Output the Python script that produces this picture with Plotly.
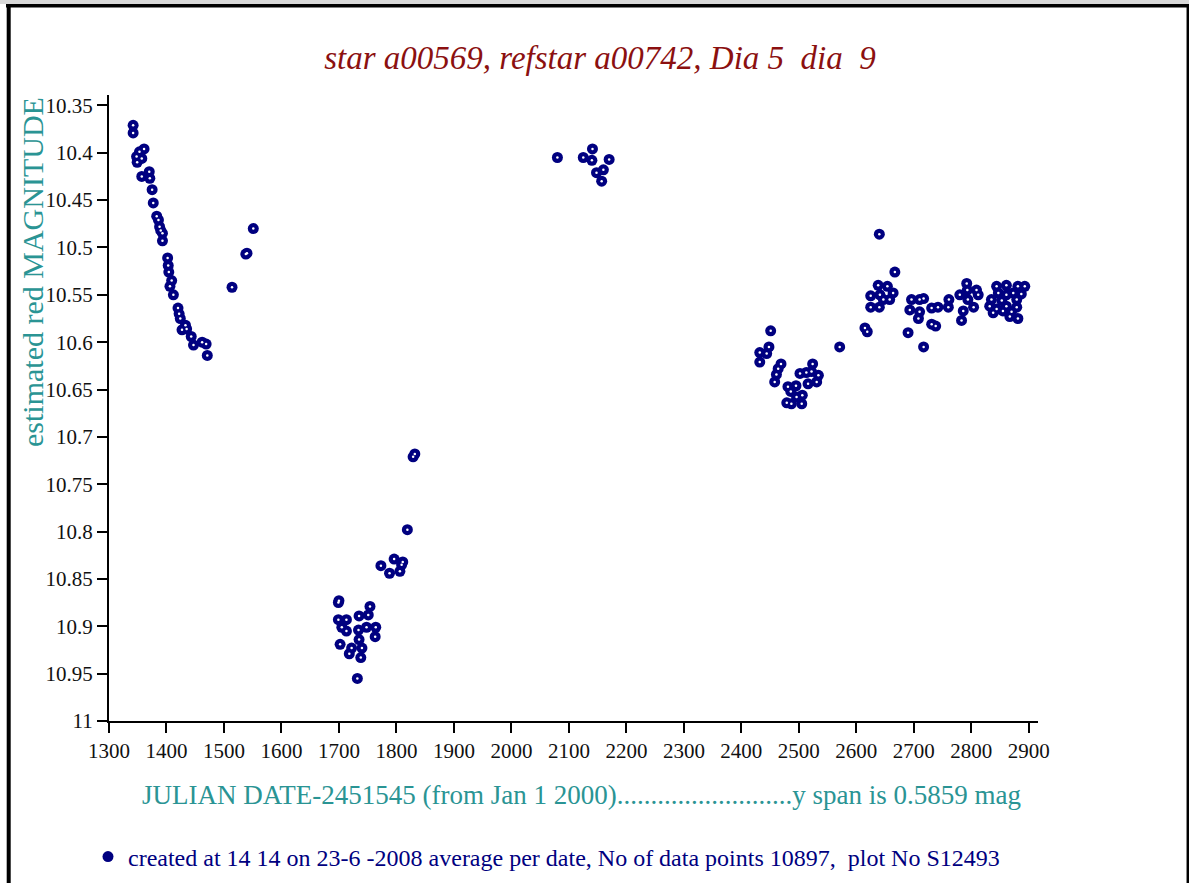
import plotly.graph_objects as go

# ---------------- data ----------------
jd = [
    1342, 1342, 1361, 1353, 1348, 1349, 1357, 1357, 1370, 1371, 1375, 1377,
    1383, 1386, 1388, 1390, 1393, 1393, 1402, 1403, 1404, 1409, 1406, 1412,
    1420, 1422, 1424, 1427, 1433, 1435, 1443, 1447, 1462, 1469, 1471,
    1514, 1538, 1540, 1551,
    1832, 1829, 1819, 1773, 1788, 1796, 1811, 1809, 1806, 1700, 1699, 1754,
    1751, 1735, 1699, 1713, 1705, 1713, 1734, 1748, 1764, 1763, 1735, 1702,
    1722, 1740, 1718, 1738, 1732,
    2080, 2125, 2141, 2140, 2170, 2148, 2160, 2157,
    2451, 2448, 2432, 2444, 2432, 2469, 2464, 2461, 2458, 2481, 2495, 2486,
    2502, 2513, 2524, 2522, 2534, 2531, 2516, 2506, 2496, 2479, 2487, 2505,
    2571,
    2640, 2667, 2638, 2654, 2664, 2625, 2641, 2647, 2658, 2625, 2640, 2615,
    2619, 2690, 2717, 2696, 2710, 2717, 2693, 2710, 2708, 2731, 2742, 2731,
    2738, 2761, 2760, 2780, 2792, 2793, 2809, 2812, 2794, 2804, 2786, 2783,
    2844, 2861, 2881, 2893, 2847, 2861, 2873, 2887, 2835, 2853, 2879, 2832,
    2844, 2861, 2879, 2838, 2855, 2870, 2867, 2881,
]
mag = [
    10.371, 10.379, 10.396, 10.399, 10.404, 10.410, 10.406, 10.425, 10.420, 10.427, 10.439, 10.453,
    10.467, 10.471, 10.478, 10.482, 10.485, 10.493, 10.511, 10.519, 10.526, 10.535, 10.541, 10.550,
    10.564, 10.570, 10.575, 10.587, 10.582, 10.586, 10.594, 10.603, 10.600, 10.602, 10.614,
    10.542, 10.507, 10.506, 10.480,
    10.718, 10.721, 10.798, 10.836, 10.844, 10.829, 10.832, 10.835, 10.842, 10.873, 10.875, 10.879,
    10.888, 10.889, 10.893, 10.893, 10.901, 10.905, 10.904, 10.901, 10.901, 10.911, 10.914, 10.919,
    10.923, 10.923, 10.929, 10.933, 10.955,
    10.405, 10.405, 10.396, 10.408, 10.407, 10.421, 10.418, 10.430,
    10.588, 10.605, 10.611, 10.612, 10.621, 10.623, 10.628, 10.634, 10.642, 10.647, 10.646, 10.652,
    10.633, 10.632, 10.623, 10.631, 10.635, 10.642, 10.644, 10.656, 10.658, 10.664, 10.665, 10.665,
    10.605,
    10.486, 10.526, 10.540, 10.541, 10.548, 10.551, 10.550, 10.555, 10.555, 10.563, 10.563, 10.585,
    10.589, 10.590, 10.605, 10.555, 10.555, 10.554, 10.566, 10.568, 10.575, 10.564, 10.563, 10.581,
    10.583, 10.555, 10.563, 10.550, 10.538, 10.545, 10.545, 10.550, 10.555, 10.563, 10.567, 10.577,
    10.541, 10.540, 10.541, 10.541, 10.548, 10.550, 10.548, 10.549, 10.555, 10.556, 10.555, 10.562,
    10.565, 10.562, 10.563, 10.569, 10.567, 10.568, 10.573, 10.575,
]
x_ticks = [1300, 1400, 1500, 1600, 1700, 1800, 1900, 2000, 2100, 2200,
           2300, 2400, 2500, 2600, 2700, 2800, 2900]
y_ticks = [10.35, 10.4, 10.45, 10.5, 10.55, 10.6, 10.65, 10.7, 10.75,
           10.8, 10.85, 10.9, 10.95, 11.0]
y_tick_labels = ["10.35", "10.4", "10.45", "10.5", "10.55", "10.6", "10.65",
                 "10.7", "10.75", "10.8", "10.85", "10.9", "10.95", "11"]

title_text = "star a00569, refstar a00742, Dia 5&nbsp; dia&nbsp; 9"
y_title = "estimated red MAGNITUDE"
x_title = ("JULIAN DATE-2451545 (from Jan 1 2000)" + "." * 26 +
           "y span is 0.5859 mag")
legend_text = ("created at 14 14 on 23-6 -2008 average per date, "
               "No of data points 10897,&nbsp; plot No S12493")

# ---------------- layout geometry ----------------
W, H = 1189, 883
L, R, T, B = 109, 1038, 95, 721   # plot area in pixels
NAVY = "#000080"
TEAL = "#2a9494"
SERIF = "Liberation Serif, Times New Roman, serif"


def px(x):
    return (x - L) / (R - L)


def py(y):
    return (B - y) / (B - T)


fig = go.Figure()
fig.add_trace(go.Scatter(
    x=jd, y=mag, mode="markers", name=legend_text,
    marker=dict(color=NAVY, size=11, line=dict(width=0)),
))
fig.add_trace(go.Scatter(
    x=jd, y=mag, mode="markers", showlegend=False, hoverinfo="skip",
    marker=dict(color="white", size=2.5, line=dict(width=0)),
))

axis_common = dict(
    showline=True, linecolor="black", linewidth=2,
    ticks="outside", ticklen=10, tickwidth=1.5, tickcolor="black",
    showgrid=False, zeroline=False,
)
fig.update_xaxes(range=[1300, 2916], tickvals=x_ticks,
                 tickfont=dict(family=SERIF, size=21, color="#111111"),
                 **axis_common)
fig.update_yaxes(range=[11.0, 10.339], tickvals=y_ticks,
                 ticktext=y_tick_labels,
                 tickfont=dict(family=SERIF, size=21, color="#111111"),
                 **axis_common)

shapes = [
    # light grey strip on top of the frame
    dict(type="rect", xref="paper", yref="paper", x0=px(0), x1=px(W),
         y0=py(0), y1=py(4), fillcolor="#d8d8d8", line=dict(width=0), layer="above"),
    # top border
    dict(type="line", xref="paper", yref="paper", x0=px(6), x1=px(W),
         y0=py(5.7), y1=py(5.7), line=dict(color="black", width=3.5)),
    # left border
    dict(type="line", xref="paper", yref="paper", x0=px(8.7), x1=px(8.7),
         y0=py(4), y1=py(H), line=dict(color="black", width=4)),
    # right border
    dict(type="line", xref="paper", yref="paper", x0=px(1187.8), x1=px(1187.8),
         y0=py(4), y1=py(H), line=dict(color="black", width=2.5)),
]

annotations = [
    dict(text=y_title, xref="paper", yref="paper", x=px(32), y=py(95),
         xanchor="center", yanchor="top", textangle=-90, showarrow=False,
         font=dict(family=SERIF, size=30, color=TEAL)),
    dict(text=x_title, xref="paper", yref="paper", x=px(581), y=py(795),
         xanchor="center", yanchor="middle", showarrow=False,
         font=dict(family=SERIF, size=27, color=TEAL)),
]

fig.update_layout(
    width=W, height=H,
    margin=dict(l=L, r=W - R, t=T, b=H - B, autoexpand=False),
    paper_bgcolor="white", plot_bgcolor="white",
    title=dict(text=title_text, xref="container", yref="container",
               x=600 / W, y=1 - 57 / H, xanchor="center", yanchor="middle",
               font=dict(family=SERIF, size=33, color="#8b1010", style="italic")),
    showlegend=True,
    legend=dict(x=px(88), y=py(857), xanchor="left", yanchor="middle",
                orientation="h", bgcolor="rgba(0,0,0,0)",
                font=dict(family=SERIF, size=24, color=NAVY)),
    shapes=shapes,
    annotations=annotations,
)

fig.write_html("out.html",
               config={"displayModeBar": False},
               post_script="document.body.style.margin='0px';"
                           "document.body.style.overflow='hidden';")
